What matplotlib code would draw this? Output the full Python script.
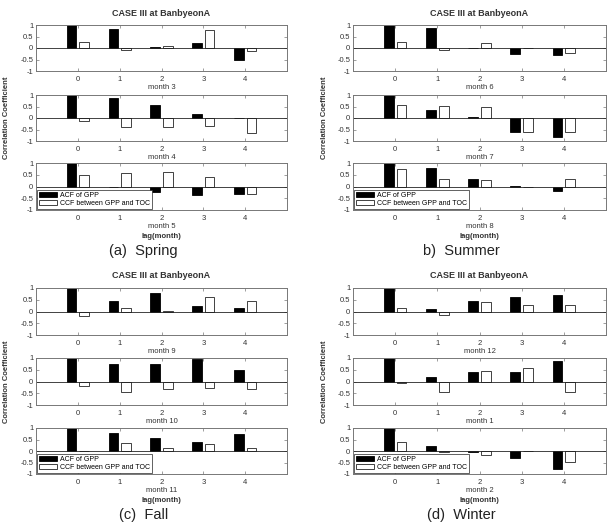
import numpy as np
import matplotlib.pyplot as plt

plt.rcParams['font.family'] = ['Liberation Sans', 'DejaVu Sans']

lags = [0, 1, 2, 3, 4]
captions = ['(a)  Spring', 'b)  Summer', '(c)  Fall', '(d)  Winter']
months_spring = [3, 4, 5]
months_summer = [6, 7, 8]
months_fall = [9, 10, 11]
months_winter = [12, 1, 2]

acf_spring = [[1.0, 0.81, 0.03, 0.23, -0.52],
              [1.0, 0.85, 0.55, 0.16, 0.0],
              [1.0, -0.02, -0.22, -0.38, -0.30]]
ccf_spring = [[0.25, -0.10, 0.07, 0.78, -0.15],
              [-0.13, -0.38, -0.40, -0.33, -0.64],
              [0.50, 0.58, 0.60, 0.42, -0.32]]
acf_summer = [[1.0, 0.86, 0.0, -0.26, -0.32],
              [1.0, 0.33, 0.05, -0.62, -0.81],
              [1.0, 0.80, 0.33, 0.03, -0.18]]
ccf_summer = [[0.25, -0.08, 0.20, 0.02, -0.23],
              [0.58, 0.51, 0.49, -0.60, -0.62],
              [0.76, 0.33, 0.28, -0.02, 0.33]]
acf_fall = [[1.0, 0.44, 0.80, 0.24, 0.13],
            [1.0, 0.74, 0.74, 0.94, 0.47],
            [1.0, 0.77, 0.58, 0.38, 0.72]]
ccf_fall = [[-0.19, 0.17, 0.02, 0.63, 0.44],
            [-0.19, -0.46, -0.31, -0.26, -0.31],
            [0.0, 0.33, 0.11, 0.32, 0.11]]
acf_winter = [[1.0, 0.11, 0.46, 0.63, 0.70],
              [1.0, 0.19, 0.41, 0.41, 0.86],
              [1.0, 0.20, -0.05, -0.29, -0.79]]
ccf_winter = [[0.17, -0.15, 0.40, 0.27, 0.28],
              [-0.08, -0.46, 0.43, 0.57, -0.46],
              [0.38, -0.04, -0.18, 0.02, -0.46]]

panels = [(months_spring, acf_spring, ccf_spring),
          (months_summer, acf_summer, ccf_summer),
          (months_fall, acf_fall, ccf_fall),
          (months_winter, acf_winter, ccf_winter)]

W, H = 612, 526
fig = plt.figure(figsize=(W / 100, H / 100), dpi=100)
fig.patch.set_facecolor('white')

# pixel layout (left, right) and row tops/bottoms
cols = [(36, 287), (353, 606)]
rows = [[(25, 71), (95, 141), (163, 210)],
        [(288, 335), (358, 405), (428, 474)]]
gray = '#777777'
txt = '#333333'

for p, (months, acf, ccf) in enumerate(panels):
    x0, x1 = cols[p % 2]
    r = rows[p // 2]
    for k in range(3):
        y0, y1 = r[k]
        ax = fig.add_axes([x0 / W, 1 - y1 / H, (x1 - x0) / W, (y1 - y0) / H])
        x = np.array(lags)
        ax.bar(x - 0.15, acf[k], width=0.23, color='black', edgecolor='black', linewidth=0.6,
               label='ACF of GPP')
        ax.bar(x + 0.15, ccf[k], width=0.23, color='white', edgecolor='#222222', linewidth=0.6,
               label='CCF between GPP and TOC')
        ax.axhline(0, color='#222222', linewidth=0.6)
        ax.set_xlim(-1, 5)
        ax.set_ylim(-1, 1)
        ax.set_xticks(lags)
        ax.set_yticks([-1, -0.5, 0, 0.5, 1])
        ax.set_yticklabels(['-1', '-0.5', '0', '0.5', '1'])
        ax.tick_params(direction='in', length=2, width=0.5, labelsize=5.5, colors=gray,
                       labelcolor=txt, top=True, right=True, pad=2)
        ax.tick_params(axis='x', pad=3.5)
        for s in ax.spines.values():
            s.set_color(gray)
            s.set_linewidth(0.7)
        ax.set_xlabel(f'month {months[k]}', fontsize=5.5, labelpad=0.5, color=txt)
        if k == 2:
            leg = ax.legend(loc='lower left', fontsize=5, fancybox=False, edgecolor='#222222',
                            framealpha=1, handlelength=2.6, handleheight=0.8,
                            borderpad=0.3, labelspacing=0.2, handletextpad=0.4,
                            borderaxespad=0.1)
            leg.get_frame().set_linewidth(0.5)

    cx = (x0 + x1) / 2
    top = r[0][0]
    fig.text(cx / W, 1 - (top - 12) / H, 'CASE III at BanbyeonA', ha='center', va='center',
             fontsize=6.5, fontweight='bold', color=txt)
    fig.text(cx / W, 1 - (r[2][1] + 27) / H, 'lag(month)', ha='center', va='center',
             fontsize=5.5, fontweight='bold', color=txt)
    mid = (r[1][0] + r[1][1]) / 2
    fig.text((x0 - 29) / W, 1 - mid / H, 'Correlation Coefficient', ha='center', va='center',
             rotation=90, fontsize=5.5, fontweight='bold', color=txt)
    fig.text((cx - 18) / W, 1 - (r[2][1] + 41) / H, captions[p], ha='center', va='center',
             fontsize=10.5, color='#222222')

fig.savefig('out.png', dpi=100)
